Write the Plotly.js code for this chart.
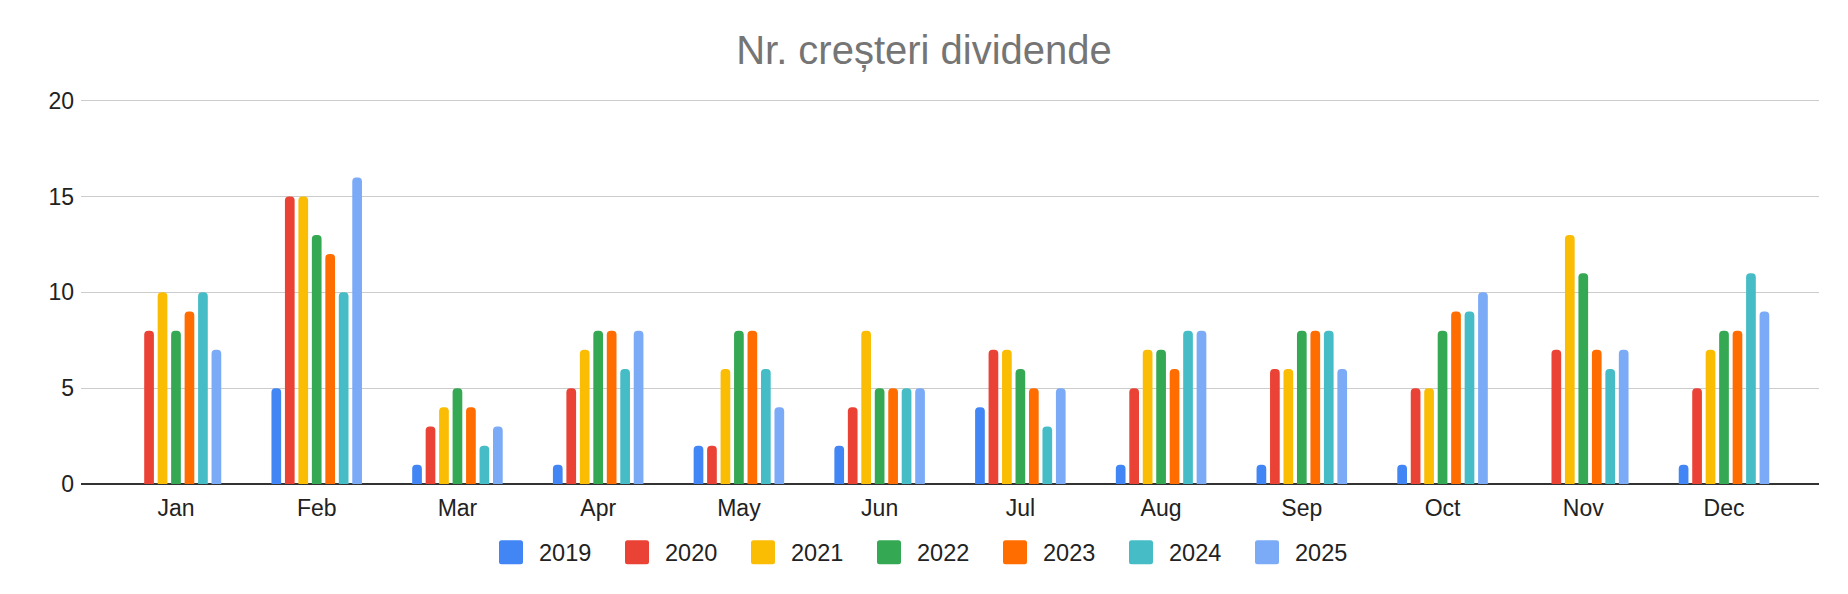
<!DOCTYPE html>
<html>
<head>
<meta charset="utf-8">
<script src="https://cdn.plot.ly/plotly-3.0.1.min.js"></script>
<style>
  html, body { margin: 0; padding: 0; background: #fff; }
  #chart { width: 1848px; height: 594px; }
</style>
</head>
<body>
<div id="chart"></div>
<script>
const months = ['Jan', 'Feb', 'Mar', 'Apr', 'May', 'Jun', 'Jul', 'Aug', 'Sep', 'Oct', 'Nov', 'Dec'];
const years = ['2019', '2020', '2021', '2022', '2023', '2024', '2025'];
const colors = ['#4285F4', '#EA4335', '#FBBC04', '#34A853', '#FF6D01', '#46BDC6', '#7BAAF7'];

const y2019 = [0, 5, 1, 1, 2, 2, 4, 1, 1, 1, 0, 1];
const y2020 = [8, 15, 3, 5, 2, 4, 7, 5, 6, 5, 7, 5];
const y2021 = [10, 15, 4, 7, 6, 8, 7, 7, 6, 5, 13, 7];
const y2022 = [8, 13, 5, 8, 8, 5, 6, 7, 8, 8, 11, 8];
const y2023 = [9, 12, 4, 8, 8, 5, 5, 6, 8, 9, 7, 8];
const y2024 = [10, 10, 2, 6, 6, 5, 3, 8, 8, 9, 6, 11];
const y2025 = [7, 16, 3, 8, 4, 5, 5, 8, 6, 10, 7, 9];

const series = [y2019, y2020, y2021, y2022, y2023, y2024, y2025];
const font = 'Arial, "Liberation Sans", sans-serif';

const bars = series.map((vals, i) => ({
  type: 'bar',
  x: months,
  y: vals,
  name: years[i],
  marker: { color: colors[i], cornerradius: 4 },
  hoverinfo: 'x+y+name'
}));

const layout = {
  width: 1848,
  height: 594,
  margin: { l: 81, r: 29, t: 95, b: 110 },
  paper_bgcolor: '#fff',
  plot_bgcolor: '#fff',
  font: { family: font, color: '#222', size: 23 },
  title: {
    text: 'Nr. creșteri dividende',
    font: { family: font, size: 40, color: '#757575' },
    x: 0.5,
    xref: 'container',
    xanchor: 'center',
    y: 0.915,
    yref: 'container',
    yanchor: 'middle'
  },
  barmode: 'group',
  bargap: 0.33,
  bargroupgap: 0.28,
  xaxis: {
    type: 'category',
    range: [-0.675, 11.675],
    showgrid: false,
    zeroline: false,
    showline: false,
    ticks: '',
    ticklabelstandoff: 8,
    tickfont: { size: 23, color: '#222' },
    fixedrange: true
  },
  yaxis: {
    range: [0, 20.3],
    tickvals: [0, 5, 10, 15, 20],
    showgrid: true,
    gridcolor: '#cccccc',
    gridwidth: 1,
    zeroline: true,
    zerolinecolor: '#333333',
    zerolinewidth: 2,
    showline: false,
    ticks: '',
    ticklabelstandoff: 6,
    tickfont: { size: 23, color: '#222' },
    fixedrange: true
  },
  showlegend: true,
  legend: {
    orientation: 'h',
    x: 0.5,
    xanchor: 'center',
    xref: 'container',
    y: 0.07,
    yref: 'container',
    yanchor: 'middle',
    itemwidth: 46,
    entrywidth: 65,
    font: { size: 23.5, color: '#222' }
  }
};

Plotly.newPlot('chart', bars, layout, { displayModeBar: false, staticPlot: true }).then(gd => {
  // sheet-style legend swatches are about twice the plotly default
  gd.querySelectorAll('.legend .legendpoints path').forEach(p => {
    p.setAttribute('d', 'M12,9.5V-9.5Q12,-12 9.5,-12H-9.5Q-12,-12 -12,-9.5V9.5Q-12,12 -9.5,12H9.5Q12,12 12,9.5Z');
  });
});
</script>
</body>
</html>
